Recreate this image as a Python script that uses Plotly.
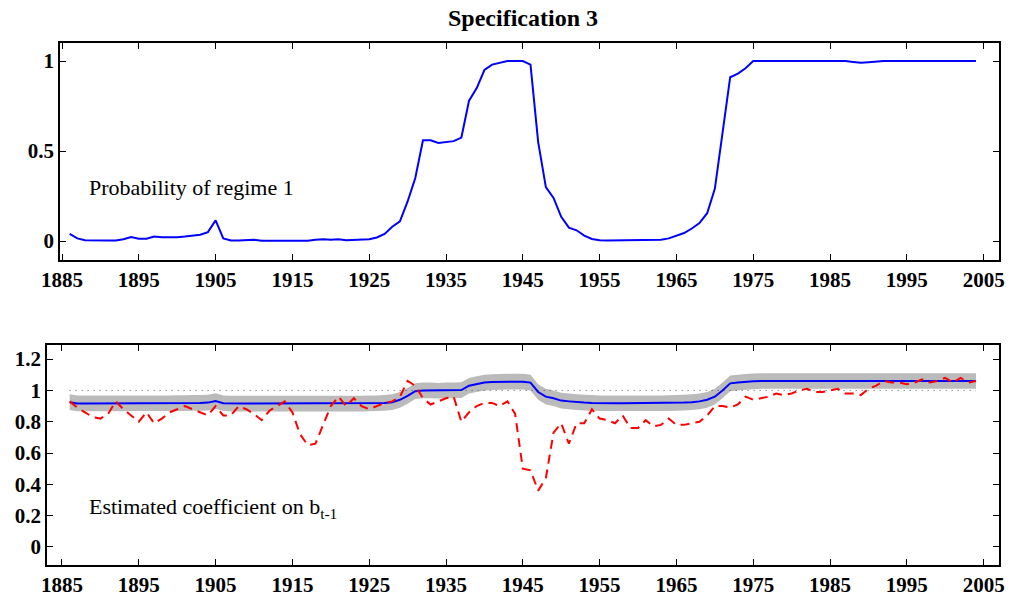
import plotly.graph_objects as go

years = list(range(1886, 2005))

prob_regime1 = [
    0.04, 0.015, 0.005, 0.003, 0.003, 0.003, 0.003, 0.01, 0.022, 0.013,
    0.013, 0.025, 0.022, 0.02, 0.022, 0.025, 0.028, 0.035, 0.05, 0.115,
    0.015, 0.003, 0.003, 0.003, 0.007, 0.002, 0.002, 0.002, 0.002, 0.002,
    0.002, 0.002, 0.007, 0.01, 0.008, 0.01, 0.005, 0.007, 0.008, 0.01,
    0.02, 0.04, 0.08, 0.11, 0.22, 0.35, 0.56, 0.56, 0.545, 0.55,
    0.555, 0.575, 0.78, 0.85, 0.95, 0.98, 0.99, 1.0, 1.0, 1.0,
    0.98, 0.55, 0.30, 0.24, 0.135, 0.075, 0.06, 0.03, 0.012, 0.005,
    0.003, 0.003, 0.003, 0.003, 0.003, 0.003, 0.005, 0.007, 0.015, 0.03,
    0.045, 0.07, 0.10, 0.155, 0.29, 0.60, 0.91, 0.93, 0.96, 1.0,
    1.0, 1.0, 1.0, 1.0, 1.0, 1.0, 1.0, 1.0, 1.0, 1.0,
    1.0, 1.0, 0.995, 0.99, 0.993, 0.997, 1.0, 1.0, 1.0, 1.0,
    1.0, 1.0, 1.0, 1.0, 1.0, 1.0, 1.0, 1.0, 1.0,
]

coef_smooth = [
    0.925, 0.917, 0.917, 0.917, 0.917, 0.917, 0.917, 0.917, 0.918, 0.918,
    0.918, 0.918, 0.918, 0.918, 0.919, 0.919, 0.92, 0.92, 0.922, 0.932,
    0.918, 0.916, 0.916, 0.916, 0.916, 0.916, 0.916, 0.916, 0.916, 0.916,
    0.916, 0.916, 0.916, 0.916, 0.916, 0.916, 0.916, 0.916, 0.916, 0.917,
    0.918, 0.92, 0.925, 0.94, 0.965, 0.995, 1.0, 1.0, 0.998, 1.0,
    1.0, 1.002, 1.03, 1.04, 1.05, 1.053, 1.055, 1.056, 1.056, 1.056,
    1.05, 0.99, 0.96, 0.95, 0.935, 0.93, 0.925, 0.922, 0.92, 0.918,
    0.918, 0.918, 0.918, 0.918, 0.918, 0.918, 0.918, 0.918, 0.919, 0.92,
    0.922, 0.925, 0.93, 0.94, 0.96, 1.0, 1.045, 1.05, 1.055, 1.058,
    1.06, 1.06, 1.06, 1.06, 1.06, 1.06, 1.06, 1.06, 1.06, 1.06,
    1.06, 1.06, 1.06, 1.06, 1.06, 1.06, 1.06, 1.06, 1.06, 1.06,
    1.06, 1.06, 1.06, 1.06, 1.06, 1.06, 1.06, 1.06, 1.06,
]

coef_rolling = [
    0.93, 0.89, 0.86, 0.83, 0.82, 0.85, 0.93, 0.88, 0.84, 0.80,
    0.86, 0.79, 0.82, 0.86, 0.88, 0.90, 0.88, 0.86, 0.84, 0.90,
    0.84, 0.84, 0.90, 0.88, 0.85, 0.81, 0.87, 0.90, 0.93, 0.86,
    0.72, 0.65, 0.66, 0.78, 0.90, 0.96, 0.90, 0.95, 0.90, 0.88,
    0.90, 0.92, 0.93, 0.96, 1.06, 1.03, 0.95, 0.91, 0.93, 0.95,
    0.96, 0.80, 0.86, 0.90, 0.92, 0.92, 0.90, 0.93, 0.85, 0.50,
    0.49, 0.36, 0.44, 0.73, 0.79, 0.66, 0.79, 0.79, 0.88, 0.82,
    0.81, 0.79, 0.84, 0.76, 0.76, 0.81, 0.77, 0.78, 0.82, 0.78,
    0.78, 0.79, 0.80, 0.84, 0.90, 0.90, 0.89, 0.91, 0.96, 0.94,
    0.95, 0.96, 0.98, 0.97, 0.98, 1.00, 1.01, 0.99, 0.99, 1.00,
    1.01, 0.98, 0.98, 0.97, 1.01, 1.03, 1.06, 1.05, 1.05, 1.04,
    1.05, 1.07, 1.05, 1.06, 1.08, 1.05, 1.08, 1.05, 1.06,
]

band_halfwidth = 0.05
upper = [v + band_halfwidth for v in coef_smooth]
lower = [v - band_halfwidth for v in coef_smooth]

x_ticks = list(range(1885, 2006, 10))
FONT = "Liberation Serif"
W, H = 1014, 597
OFF = 8  # page body margin


def dx(a, b):
    return [(a - OFF) / W, (b - OFF) / W]


def dy(top, bottom):
    return [1 - (bottom - OFF) / H, 1 - (top - OFF) / H]


fig = go.Figure()

fig.add_trace(go.Scatter(x=years, y=prob_regime1, mode="lines",
                         line=dict(color="#0000ff", width=2),
                         xaxis="x", yaxis="y", showlegend=False))

fig.add_trace(go.Scatter(x=years + years[::-1], y=upper + lower[::-1],
                         fill="toself", fillcolor="#bbbbbb", mode="none",
                         xaxis="x2", yaxis="y2", showlegend=False))
fig.add_trace(go.Scatter(x=[1886, 2004], y=[1, 1], mode="lines",
                         line=dict(color="#555555", width=1, dash="1px,5px"),
                         xaxis="x2", yaxis="y2", showlegend=False))
fig.add_trace(go.Scatter(x=years, y=coef_smooth, mode="lines",
                         line=dict(color="#0000ff", width=2),
                         xaxis="x2", yaxis="y2", showlegend=False))
fig.add_trace(go.Scatter(x=years, y=coef_rolling, mode="lines",
                         line=dict(color="#ff0000", width=2, dash="9px,6px"),
                         xaxis="x2", yaxis="y2", showlegend=False))

axis_common = dict(showline=True, mirror="ticks", linecolor="black", linewidth=1.5,
                   ticks="inside", ticklen=6, tickcolor="black", showgrid=False,
                   zeroline=False, automargin=False,
                   tickfont=dict(family=FONT, size=21, color="black", weight="bold"))

fig.update_layout(
    width=W, height=H,
    margin=dict(l=0, r=0, t=0, b=0),
    paper_bgcolor="white", plot_bgcolor="white",
    font=dict(family=FONT, color="black"),
    xaxis=dict(domain=dx(60, 999), range=[1884.74, 2007.0],
               tickvals=x_ticks, anchor="y", **axis_common),
    yaxis=dict(domain=dy(43, 260), range=[-0.105, 1.1],
               tickvals=[0, 0.5, 1], ticktext=["0", "0.5", "1"], anchor="x",
               **axis_common),
    xaxis2=dict(domain=dx(47, 999), range=[1883.05, 2007.0],
                tickvals=x_ticks, anchor="y2", **axis_common),
    yaxis2=dict(domain=dy(345, 565), range=[-0.115, 1.29],
                tickvals=[0, 0.2, 0.4, 0.6, 0.8, 1, 1.2],
                ticktext=["0", "0.2", "0.4", "0.6", "0.8", "1", "1.2"],
                anchor="x2", **axis_common),
    annotations=[
        dict(text="<b>Specification 3</b>", xref="paper", yref="paper",
             x=(523 - OFF) / W, y=1 - (18 - OFF) / H, yanchor="middle",
             showarrow=False, font=dict(family=FONT, size=24)),
        dict(text="Probability of regime 1", xref="x", yref="y",
             x=1888.2, y=0.3, xanchor="left", showarrow=False,
             font=dict(family=FONT, size=22)),
        dict(text="Estimated coefficient on b<sub>t-1</sub>", xref="x2", yref="y2",
             x=1888.2, y=0.25, xanchor="left", showarrow=False,
             font=dict(family=FONT, size=22)),
    ],
)

fig.write_html("out.html")
